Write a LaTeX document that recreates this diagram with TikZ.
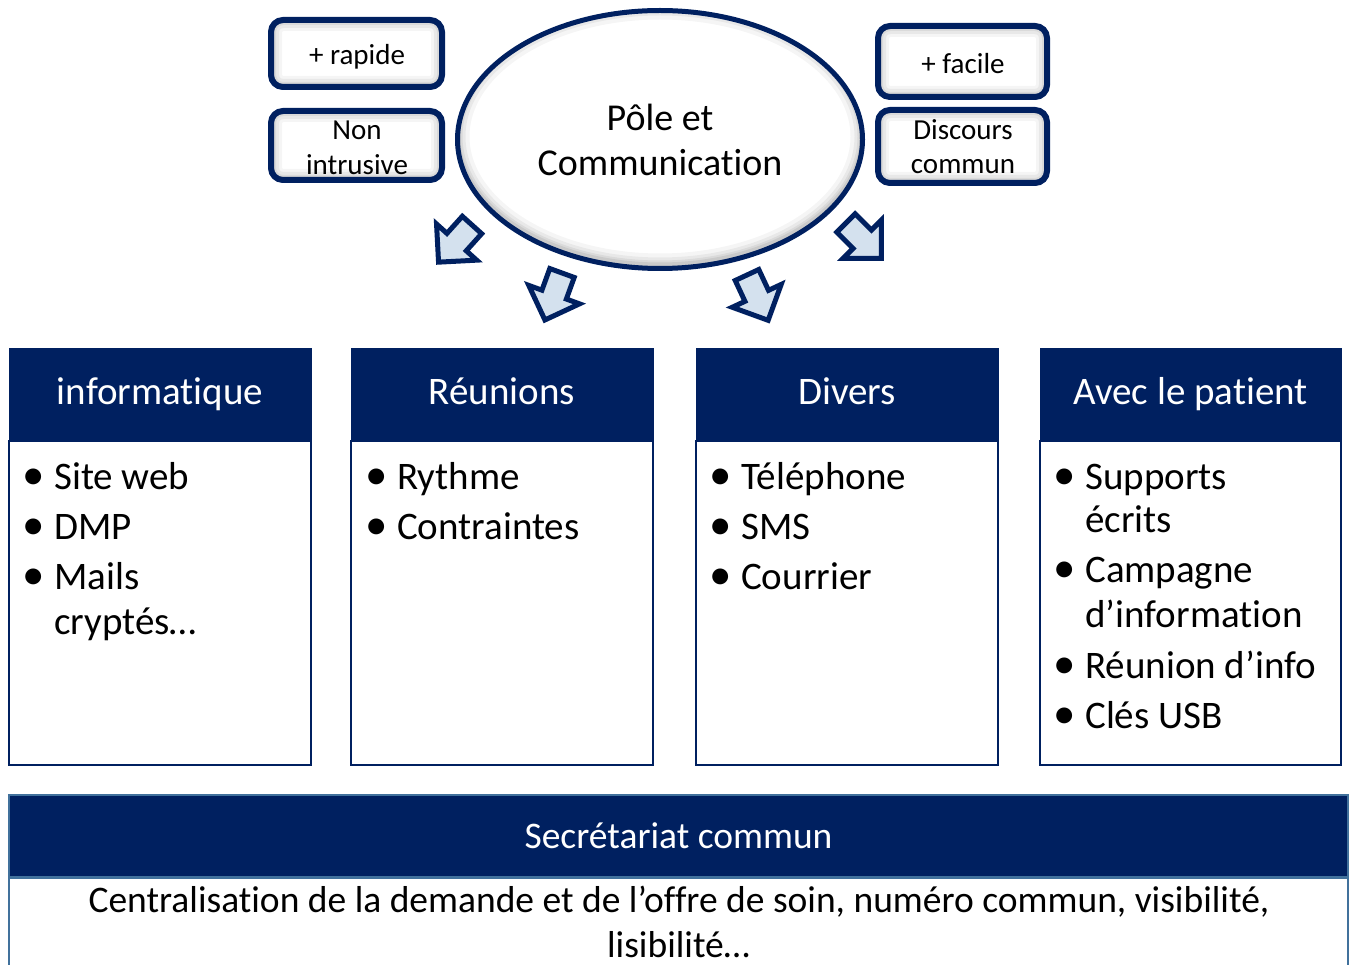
\documentclass[tikz,border=0pt]{standalone}
\usepackage{fontspec}
\setmainfont{Carlito}[Ligatures=NoCommon]
\usetikzlibrary{shapes.geometric}
\definecolor{navy}{RGB}{0,32,96}
\definecolor{steel}{RGB}{65,113,156}
\definecolor{arrowfill}{RGB}{212,225,238}
\newcommand\fBig{\fontsize{39}{44}\selectfont}
\newcommand\fMid{\fontsize{37.5}{44}\selectfont}
\newcommand\fPole{\fontsize{38}{45}\selectfont}
\newcommand\fSmall{\fontsize{29}{35}\selectfont}
\newcommand\blt{\llap{\scalebox{1.15}{\textbullet}\hspace{9pt}}}
\begin{document}
\begin{tikzpicture}[x=1pt,y=-1pt,
  txt/.style={inner sep=0pt, anchor=base},
  item/.style={inner sep=0pt, anchor=base west, font=\fBig},
  smallbox/.style={draw=navy, line width=6pt, rounded corners=12pt, fill=white, inner sep=0pt,
    path picture={\foreach \w/\o in {22/0.04,16/0.05,10/0.06,6/0.08}
      \draw[black, opacity=\o, line width=\w pt, rounded corners=12pt]
        (path picture bounding box.south west) rectangle (path picture bounding box.north east);}},
  bigellipse/.style={ellipse, draw=navy, line width=5pt, fill=white, inner sep=0pt,
    minimum width=405pt, minimum height=258pt,
    path picture={\foreach \w/\o in {24/0.04,16/0.05,10/0.06,6/0.07}
      \draw[black, opacity=\o, line width=\w pt]
        ([yshift=3pt]path picture bounding box.center) ellipse [x radius=202.5pt, y radius=129pt];}},
  arrowshape/.style={draw=navy, line width=5pt, fill=arrowfill, line join=miter},
  hdr/.style={fill=navy, draw=navy, line width=1pt, minimum width=302pt, minimum height=91pt,
    inner sep=0pt, text=white, font=\fBig, text height=30pt, text depth=9pt},
  colbody/.style={draw=navy, line width=2pt, fill=white, minimum width=302pt, minimum height=324pt,
    inner sep=0pt, anchor=north},
  sechdr/.style={fill=navy, draw=steel, line width=2pt, minimum width=1339pt, minimum height=82pt,
    inner sep=0pt, text=white, font=\fMid, text height=29pt, text depth=5pt},
  secbody/.style={draw=steel, line width=2pt, fill=white, minimum width=1339pt, minimum height=100pt,
    inner sep=0pt, anchor=north}
]
\path[use as bounding box] (0,0) rectangle (1352,965);
\clip (0,0) rectangle (1352,965);

% central ellipse
\node[bigellipse] (pole) at (660,139.5) {};
\node[txt, font=\fPole] (pole1) at (660,131) {Pôle et};
\node[txt, font=\fPole] (pole2) at (660,176) {Communication};

% small boxes
\node[smallbox, minimum width=171pt, minimum height=67pt] (rapide) at (356.5,53.5) {};
\node[txt, font=\fSmall] (rapidet) at (357,65) {+ rapide};
\node[smallbox, minimum width=171pt, minimum height=69pt] (nonintr) at (356.5,145.5) {};
\node[txt, font=\fSmall] (nonintr1) at (357,140) {Non};
\node[txt, font=\fSmall] (nonintr2) at (357,175) {intrusive};
\node[smallbox, minimum width=169pt, minimum height=71pt] (facile) at (962.5,61.5) {};
\node[txt, font=\fSmall] (facilet) at (963,74) {+ facile};
\node[smallbox, minimum width=169pt, minimum height=73pt] (discours) at (962.5,146.5) {};
\node[txt, font=\fSmall] (discours1) at (963,140) {Discours};
\node[txt, font=\fSmall] (discours2) at (963,174) {commun};

% block arrows
\begin{scope}[shift={(472,225)}, rotate=-132]
\draw[arrowshape] (0,-13) -- (23,-13) -- (23,-27) -- (50,0) -- (23,27) -- (23,13) -- (0,13) -- cycle;
\end{scope}
\begin{scope}[shift={(562,273)}, rotate=-110]
\draw[arrowshape] (0,-13) -- (23,-13) -- (23,-27) -- (50,0) -- (23,27) -- (23,13) -- (0,13) -- cycle;
\end{scope}
\begin{scope}[shift={(747,275)}, rotate=-65]
\draw[arrowshape] (0,-13) -- (23,-13) -- (23,-27) -- (50,0) -- (23,27) -- (23,13) -- (0,13) -- cycle;
\end{scope}
\begin{scope}[shift={(846,223)}, rotate=-45]
\draw[arrowshape] (0,-13) -- (23,-13) -- (23,-27) -- (50,0) -- (23,27) -- (23,13) -- (0,13) -- cycle;
\end{scope}

% columns
\node[colbody] (bodyA) at (160,440) {};
\node[hdr] (hdrA) at (160,394.5) {informatique};
\node[colbody] (bodyB) at (502,440) {};
\node[hdr] (hdrB) at (502,394.5) {Réunions};
\node[colbody] (bodyC) at (847,440) {};
\node[hdr] (hdrC) at (847,394.5) {Divers};
\node[colbody, minimum width=301pt] (bodyD) at (1190.5,440) {};
\node[hdr, minimum width=301pt] (hdrD) at (1190.5,394.5) {Avec le patient};

% items
\node[item] (a1) at (54,489) {\blt Site web};
\node[item] (a2) at (54,539) {\blt DMP};
\node[item] (a3) at (54,589) {\blt Mails};
\node[item] (a4) at (54,634) {cryptés…};

\node[item] (b1) at (397,489) {\blt Rythme};
\node[item] (b2) at (397,539) {\blt Contraintes};

\node[item] (c1) at (741,489) {\blt Téléphone};
\node[item] (c2) at (741,539) {\blt SMS};
\node[item] (c3) at (741,589) {\blt Courrier};

\node[item] (d1) at (1085,489) {\blt Supports};
\node[item] (d2) at (1085,532) {écrits};
\node[item] (d3) at (1085,582) {\blt Campagne};
\node[item] (d4) at (1085,627) {d’information};
\node[item] (d5) at (1085,678) {\blt Réunion d’info};
\node[item] (d6) at (1085,728) {\blt Clés USB};

% secretariat
\node[secbody] (secb) at (678.5,877) {};
\node[sechdr] (sec) at (678.5,836) {Secrétariat commun};
\node[txt, font=\fMid] (secl1) at (679,912) {Centralisation de la demande et de l’offre de soin, numéro commun, visibilité,};
\node[txt, font=\fMid] (secl2) at (678.5,957) {lisibilité…};
\end{tikzpicture}
\end{document}
